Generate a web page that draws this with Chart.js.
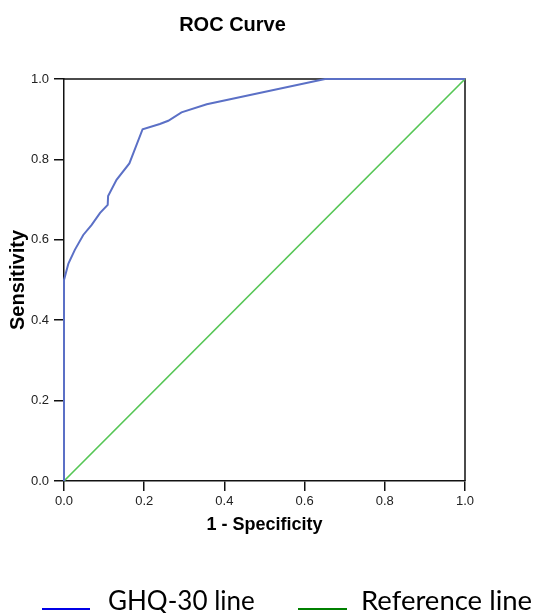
<!DOCTYPE html>
<html>
<head>
<meta charset="utf-8">
<title>ROC Curve</title>
<script src="https://cdn.jsdelivr.net/npm/chart.js@4.4.1/dist/chart.umd.min.js"></script>
<style>
  html, body { margin: 0; padding: 0; background: #fff; overflow: hidden; }
  #wrap { width: 534px; height: 613px; }
</style>
</head>
<body>
<div id="wrap"><canvas id="rocChart" width="534" height="613"></canvas></div>
<script>
// ROC curve
const fpr = [0, 0, 0.011, 0.027, 0.048, 0.069, 0.090, 0.109, 0.110, 0.131, 0.163, 0.196, 0.239, 0.260, 0.293, 0.356, 0.464, 0.651, 1.0];
const tpr = [0, 0.500, 0.541, 0.575, 0.612, 0.637, 0.667, 0.687, 0.709, 0.749, 0.790, 0.875, 0.888, 0.896, 0.917, 0.937, 0.960, 1.0, 1.0];

// diagonal reference line
const refX = [0, 1];
const refY = [0, 1];

const tickValues = [0, 0.2, 0.4, 0.6, 0.8, 1.0];
const legendNames = ["GHQ-30 line", "Reference line"];
const legendColors = ["#0000e6", "#008000"];

const axisFont = "'Liberation Sans', Arial, sans-serif";
const INK = "#111";

// top + right edges of the plot box (left/bottom come from the axes)
const frameBox = {
  id: "frameBox",
  beforeDatasetsDraw(chart) {
    const { ctx, chartArea: a } = chart;
    ctx.save();
    ctx.strokeStyle = INK;
    ctx.lineWidth = 1.5;
    ctx.beginPath();
    ctx.moveTo(a.left, a.top);
    ctx.lineTo(a.right, a.top);
    ctx.lineTo(a.right, a.bottom);
    ctx.stroke();
    ctx.restore();
  }
};

// legend under the chart, drawn like the original (line + label)
const bottomLegend = {
  id: "bottomLegend",
  afterDraw(chart) {
    const ctx = chart.ctx;
    const items = [
      { x1: 42, x2: 90, tx: 108, size: 26 },
      { x1: 298, x2: 347, tx: 361, size: 27.5 }
    ];
    ctx.save();
    ctx.textBaseline = "alphabetic";
    items.forEach((it, i) => {
      ctx.strokeStyle = legendColors[i];
      ctx.lineWidth = 2;
      ctx.beginPath();
      ctx.moveTo(it.x1, 609);
      ctx.lineTo(it.x2, 609);
      ctx.stroke();
      ctx.font = it.size + "px Lato, 'Open Sans', sans-serif";
      ctx.fillStyle = "#000";
      ctx.fillText(legendNames[i], it.tx, 610);
    });
    ctx.restore();
  }
};

const setTicks = scale => { scale.ticks = tickValues.map(v => ({ value: v })); };

new Chart(document.getElementById("rocChart"), {
  type: "line",
  data: {
    datasets: [{
      label: legendNames[0],
      data: fpr.map((x, i) => ({ x: x, y: tpr[i] })),
      borderColor: "#5b70c6",
      borderWidth: 2,
      pointRadius: 0,
      tension: 0,
      fill: false,
      clip: 4
    }, {
      label: legendNames[1],
      data: refX.map((x, i) => ({ x: x, y: refY[i] })),
      borderColor: "#55c655",
      borderWidth: 1.7,
      pointRadius: 0,
      fill: false,
      clip: 4
    }]
  },
  options: {
    responsive: false,
    animation: false,
    layout: { padding: { left: 0, right: 69, top: 0, bottom: 72 } },
    plugins: {
      legend: { display: false },
      tooltip: { enabled: false },
      title: {
        display: true,
        text: "ROC Curve",
        color: "#000",
        font: { family: axisFont, size: 20, weight: "bold" },
        padding: { top: 13, bottom: 42 }
      }
    },
    scales: {
      x: {
        type: "linear",
        min: 0,
        max: 1,
        afterBuildTicks: setTicks,
        afterFit: s => { s.height = 60; },
        border: { color: INK, width: 1.5 },
        grid: { drawOnChartArea: false, tickLength: 10, color: INK, lineWidth: 1.5 },
        ticks: {
          padding: 3,
          color: "#222",
          font: { family: axisFont, size: 13 },
          maxRotation: 0,
          callback: v => v.toFixed(1)
        },
        title: {
          display: true,
          text: "1 - Specificity",
          color: "#000",
          font: { family: axisFont, size: 18, weight: "bold" },
          padding: { top: 0, bottom: 5 }
        }
      },
      y: {
        type: "linear",
        min: 0,
        max: 1,
        afterBuildTicks: setTicks,
        afterFit: s => { s.width = 64; },
        border: { color: INK, width: 1.5 },
        grid: { drawOnChartArea: false, tickLength: 10, color: INK, lineWidth: 1.5 },
        ticks: {
          padding: 5,
          color: "#222",
          font: { family: axisFont, size: 13 },
          callback: v => v.toFixed(1)
        },
        title: {
          display: true,
          text: "Sensitivity",
          color: "#000",
          font: { family: axisFont, size: 20, weight: "bold" },
          padding: { top: 6, bottom: 0 }
        }
      }
    }
  },
  plugins: [frameBox, bottomLegend]
});
</script>
</body>
</html>
